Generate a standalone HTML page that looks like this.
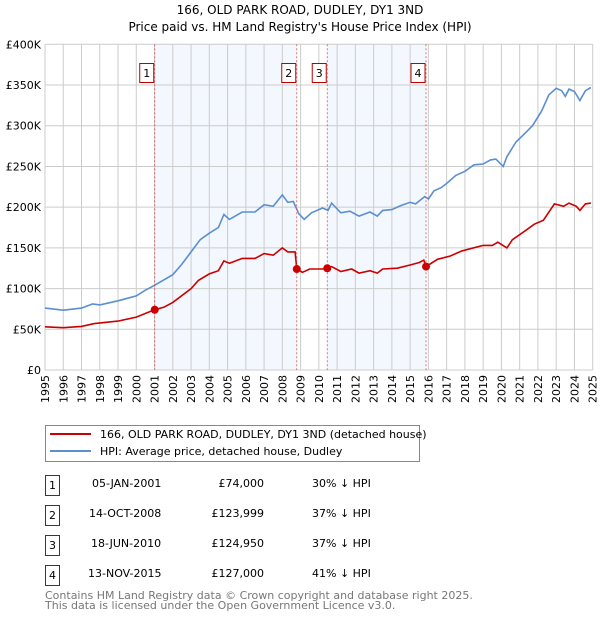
<!DOCTYPE html>
<html><head><meta charset="utf-8"><style>
body{margin:0;background:#fff;font-family:"Liberation Sans","DejaVu Sans",sans-serif;}
#wrap{position:relative;width:600px;height:620px;}
</style></head><body><div id="wrap">
<svg id="chart" width="600" height="620" font-family="DejaVu Sans, Liberation Sans, sans-serif">
<text x="300" y="14" text-anchor="middle" font-size="12">166, OLD PARK ROAD, DUDLEY, DY1 3ND</text>
<text x="300" y="31" text-anchor="middle" font-size="12">Price paid vs. HM Land Registry's House Price Index (HPI)</text>
<g id="shade"></g><g id="grid"></g><g id="lines"></g><g id="marks"></g><g id="axes"></g>
</svg>
<svg width="600" height="620" style="position:absolute;left:0;top:0" font-family="DejaVu Sans, Liberation Sans, sans-serif" font-size="11">
<rect x="45.5" y="425.5" width="374" height="36" fill="#fff" stroke="#888"/>
<line x1="50" y1="434" x2="91" y2="434" stroke="#cc0000" stroke-width="2"/>
<text x="100" y="438">166, OLD PARK ROAD, DUDLEY, DY1 3ND (detached house)</text>
<line x1="50" y1="451" x2="91" y2="451" stroke="#5b8fd0" stroke-width="2"/>
<text x="100" y="455">HPI: Average price, detached house, Dudley</text>
<g><rect x="45.5" y="475.5" width="14" height="20" fill="none" stroke="#b00"/><text x="52.5" y="489" text-anchor="middle">1</text><text x="92" y="487">05-JAN-2001</text><text x="264" y="487" text-anchor="end">£74,000</text><text x="312" y="487">30% ↓ HPI</text></g>
<g><rect x="45.5" y="505.5" width="14" height="20" fill="none" stroke="#b00"/><text x="52.5" y="519" text-anchor="middle">2</text><text x="89" y="517">14-OCT-2008</text><text x="264" y="517" text-anchor="end">£123,999</text><text x="312" y="517">37% ↓ HPI</text></g>
<g><rect x="45.5" y="535.5" width="14" height="20" fill="none" stroke="#b00"/><text x="52.5" y="549" text-anchor="middle">3</text><text x="91" y="547">18-JUN-2010</text><text x="264" y="547" text-anchor="end">£124,950</text><text x="312" y="547">37% ↓ HPI</text></g>
<g><rect x="45.5" y="565.5" width="14" height="20" fill="none" stroke="#b00"/><text x="52.5" y="579" text-anchor="middle">4</text><text x="88" y="577">13-NOV-2015</text><text x="264" y="577" text-anchor="end">£127,000</text><text x="312" y="577">41% ↓ HPI</text></g>
<text x="45" y="599" fill="#777" font-size="11">Contains HM Land Registry data © Crown copyright and database right 2025.</text>
<text x="45" y="609" fill="#777" font-size="11">This data is licensed under the Open Government Licence v3.0.</text>
</svg>
</div>
<script>
const yearTicks=[1995,1996,1997,1998,1999,2000,2001,2002,2003,2004,2005,2006,2007,2008,2009,2010,2011,2012,2013,2014,2015,2016,2017,2018,2019,2020,2021,2022,2023,2024,2025];
const priceTicks=[0,50,100,150,200,250,300,350,400];
const priceTickLabels=["£0","£50K","£100K","£150K","£200K","£250K","£300K","£350K","£400K"];
const hpiYears=[1995,1996,1997,1997.6,1998,1999,2000,2000.5,2001,2002,2002.5,2003,2003.5,2004,2004.5,2004.8,2005.1,2005.8,2006.5,2007,2007.5,2008,2008.3,2008.6,2008.9,2009.2,2009.6,2010.2,2010.5,2010.7,2011.2,2011.7,2012.2,2012.8,2013.2,2013.5,2014,2014.5,2015,2015.3,2015.8,2016,2016.3,2016.7,2017,2017.5,2018,2018.5,2019,2019.4,2019.7,2020.1,2020.3,2020.8,2021.3,2021.7,2022.2,2022.6,2023,2023.3,2023.5,2023.7,2024,2024.3,2024.6,2024.9];
const hpiValues=[76,73.5,76,81,80,85,91,98,104,117,130,145,160,168,175,191,185,194,194,203,201,215,206,207,192,185,193,199,196,205,193,195,189,194,189,196,197,202,206,204,213,210,220,224,229,239,244,252,253,258,259,250,262,280,291,300,318,338,346,343,336,345,342,331,343,347];
const propYears=[1995,1996,1997,1997.7,1999,2000,2001,2001.5,2002,2003,2003.4,2004,2004.5,2004.8,2005.1,2005.8,2006.5,2007,2007.5,2008,2008.3,2008.7,2008.79,2009.1,2009.5,2010.2,2010.46,2010.7,2011.2,2011.8,2012.2,2012.8,2013.2,2013.5,2014.3,2015,2015.5,2015.75,2015.87,2016.5,2017.2,2017.8,2018.3,2019,2019.5,2019.8,2020.3,2020.6,2021.3,2021.8,2022.3,2022.9,2023.4,2023.7,2024.1,2024.3,2024.6,2024.9];
const propValues=[53,52,53.5,57,60,65,74,77,83,100,110,118,122,134,131,137,137,143,141,150,145,145,124,120,124,124,125,127,121,124,119,122,119,124,125,129,132,135,127,136,140,146,149,153,153,157,150,160,171,179,184,204,201,205,201,196,204,205];
const saleYears=[2001.01,2008.79,2010.46,2015.87];
const salePrices=[74,124,124.95,127];
const saleLabels=["1","2","3","4"];
const NS="http://www.w3.org/2000/svg";
const X0=45,X1=592.7,Y0=370,Y1=44.3;
const xs=y=>X0+(y-1995)/(2025-1995)*(X1-X0);
const ys=v=>Y0-v/400*(Y0-Y1);
function mk(tag,attrs,parent){const e=document.createElementNS(NS,tag);for(const k in attrs)e.setAttribute(k,attrs[k]);document.getElementById(parent).appendChild(e);return e;}
// shading
for(let i=0;i<saleYears.length;i+=2){
 const r=mk('rect',{x:xs(saleYears[i]),y:Y1,width:xs(saleYears[i+1])-xs(saleYears[i]),height:Y0-Y1,fill:'#eef3fd',opacity:0.7},'shade');
 
 
}
yearTicks.forEach((t,i)=>{
 const l=mk('line',{x1:xs(t),x2:xs(t),y1:Y1,y2:Y0,stroke:'#cccccc'},'grid');
 
 
 const tx=mk('text',{x:0,y:0,'font-size':11,'text-anchor':'end',transform:`translate(${xs(t)+4},${Y0+5}) rotate(-90)`},'axes');
 tx.textContent=t;
 
 
});
priceTicks.forEach((t,i)=>{
 const l=mk('line',{x1:X0,x2:X1,y1:ys(t),y2:ys(t),stroke:'#cccccc'},'grid');
 
 
 const tx=mk('text',{x:X0-4,y:ys(t)+4,'font-size':11,'text-anchor':'end'},'axes');
 tx.textContent=priceTickLabels[i];
 
 
});
function line(xa,va,col,name){
 const p=mk('path',{d:xa.map((x,i)=>(i?'L':'M')+xs(x).toFixed(1)+','+ys(va[i]).toFixed(1)).join(''),fill:'none',stroke:col,'stroke-width':1.6},'lines');
 
 
}
line(hpiYears,hpiValues,'#5b8fd0','hpi-line');
line(propYears,propValues,'#cc0000','property-price-line');
saleYears.forEach((s,i)=>{
 const v=mk('line',{x1:xs(s),x2:xs(s),y1:Y1,y2:Y0,stroke:'#e05050','stroke-dasharray':'2,2','stroke-width':0.8},'marks');
 
 
 const c=mk('circle',{cx:xs(s),cy:ys(salePrices[i]),r:4,fill:'#cc0000'},'marks');
 
 
 const b=mk('rect',{x:xs(s)-15,y:63.5,width:14,height:19,fill:'#fff',stroke:'#b00'},'marks');
 
 
 const t=mk('text',{x:xs(s)-8,y:77,'font-size':11,'text-anchor':'middle'},'marks');
 t.textContent=saleLabels[i];
 
 
});
</script></body></html>
